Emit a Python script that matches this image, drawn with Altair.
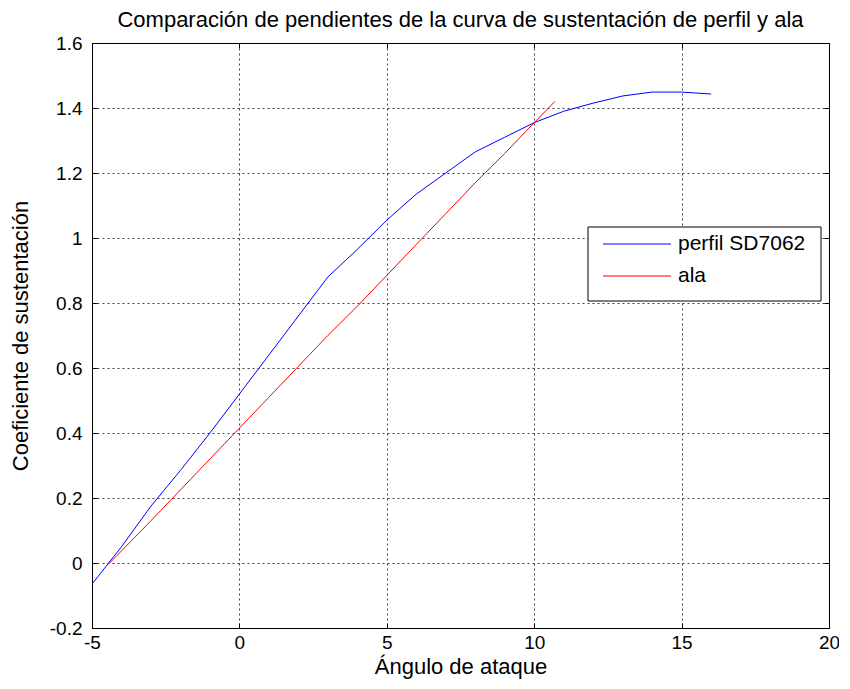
import altair as alt
import pandas as pd

# Data
perfil_x = [-5, -4, -3, -2, -1, 0, 1, 2, 3, 4, 5, 6, 7, 8, 9, 10, 11, 12, 13, 14, 15, 16]
perfil_y = [-0.065, 0.05, 0.175, 0.285, 0.40, 0.52, 0.64, 0.76, 0.88, 0.965, 1.055,
            1.135, 1.20, 1.265, 1.31, 1.355, 1.39, 1.415, 1.437, 1.449, 1.449, 1.443]
ala_x = [-4.4, -3, -2, -1, 0, 1, 2, 3, 4, 5, 6, 7, 8, 9, 10, 10.7]
ala_y = [0.0, 0.13, 0.225, 0.32, 0.415, 0.51, 0.605, 0.70, 0.79, 0.885, 0.98,
         1.075, 1.17, 1.26, 1.355, 1.42]
series_names = ["perfil SD7062", "ala"]
series_colors = ["#0000ff", "#ff0000"]
x_ticks = [-5, 0, 5, 10, 15, 20]
y_ticks = [-0.2, 0.0, 0.2, 0.4, 0.6, 0.8, 1.0, 1.2, 1.4, 1.6]

df = pd.concat([
    pd.DataFrame({"x": perfil_x, "y": perfil_y, "serie": series_names[0], "i": range(len(perfil_x))}),
    pd.DataFrame({"x": ala_x, "y": ala_y, "serie": series_names[1], "i": range(len(ala_x))}),
])

FONT = "Liberation Sans"
W, H = 737, 585
xscale = alt.Scale(domain=[-5, 20], nice=False, zero=False)
yscale = alt.Scale(domain=[-0.2, 1.6], nice=False, zero=False)
color_scale = alt.Scale(domain=series_names, range=series_colors)
lbl = "toString(round(datum.value*10)/10)"

main = alt.Chart(df).mark_line(strokeWidth=1).encode(
    x=alt.X("x:Q", scale=xscale, title="Ángulo de ataque",
            axis=alt.Axis(values=x_ticks, labelExpr=lbl, offset=-5, tickSize=5,
                          domain=False, grid=True, labelPadding=5, titlePadding=4,
                          labelFontSize=19, titleFontSize=22, labelFlush=False)),
    y=alt.Y("y:Q", scale=yscale, title="Coeficiente de sustentación",
            axis=alt.Axis(values=y_ticks, labelExpr=lbl, offset=-5, tickSize=5,
                          domain=False, grid=True, labelPadding=10, titlePadding=17,
                          labelFontSize=19, titleFontSize=22, labelFlush=False)),
    color=alt.Color("serie:N", scale=color_scale, legend=None),
    order="i:Q",
)

ghost = alt.Chart(df).mark_line(strokeWidth=1, opacity=0).encode(
    x=alt.X("x:Q", scale=xscale, title="",
            axis=alt.Axis(orient="top", values=x_ticks, labels=False, offset=-5, tickSize=5,
                          domain=False, grid=False)),
    y=alt.Y("y:Q", scale=yscale, title="",
            axis=alt.Axis(orient="right", values=y_ticks, labels=False, offset=-5, tickSize=5,
                          domain=False, grid=False)),
    detail="serie:N",
    order="i:Q",
)

# Legend (one-row data sources so each element is drawn once)
legend_box = alt.Chart(pd.DataFrame({"k": [0]})).mark_rect(
    fill="white", stroke="black", strokeWidth=1
).encode(x=alt.value(496), x2=alt.value(729), y=alt.value(184), y2=alt.value(258))
legend_layers = [legend_box]
for k, (name, col) in enumerate(zip(series_names, series_colors)):
    ypix = 201 + 32 * k
    entry = pd.DataFrame({"serie": [name]})
    legend_layers.append(
        alt.Chart(entry).mark_rule(color=col, strokeWidth=1).encode(
            x=alt.value(511), x2=alt.value(579), y=alt.value(ypix))
    )
    legend_layers.append(
        alt.Chart(entry).mark_text(align="left", baseline="middle",
                                   fontSize=21, font=FONT, color="black").encode(
            text="serie:N", x=alt.value(586), y=alt.value(ypix))
    )

chart = alt.layer(main, ghost, *legend_layers).resolve_axis(
    x="independent", y="independent"
).properties(
    width=W, height=H,
    autosize=alt.AutoSizeParams(type="none"),
    padding={"left": 84, "top": 35, "right": 10, "bottom": 52},
    title=alt.Title("Comparación de pendientes de la curva de sustentación de perfil y ala",
                    fontSize=22, font=FONT, fontWeight="normal", offset=2,
                    anchor="middle", frame="group"),
).configure_view(stroke="black", strokeWidth=1).configure_axis(
    labelFont=FONT, titleFont=FONT, titleFontWeight="normal", labelColor="black",
    titleColor="black", tickColor="black", gridColor="#000000", gridOpacity=0.75,
    gridDash=[2, 3], gridWidth=1,
)

chart.save("out.html", embed_options={"renderer": "svg", "actions": False})
